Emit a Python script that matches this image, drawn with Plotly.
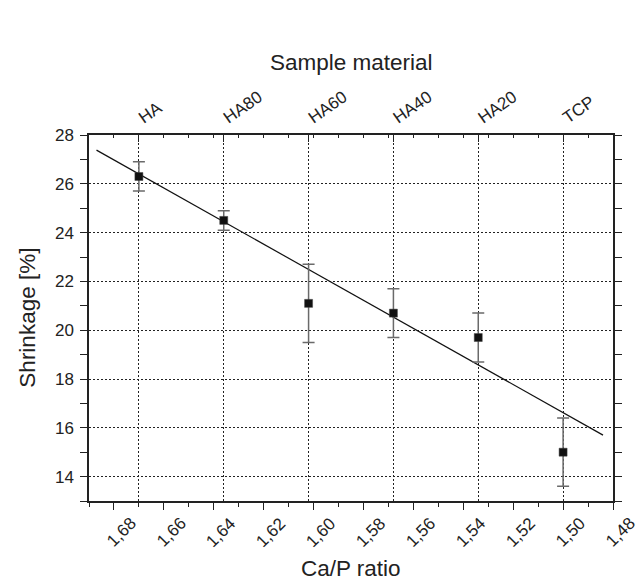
import plotly.graph_objects as go

# ---- data ----
samples = ["HA", "HA80", "HA60", "HA40", "HA20", "TCP"]
ca_p = [1.67, 1.636, 1.602, 1.568, 1.534, 1.50]
shrinkage = [26.3, 24.5, 21.1, 20.7, 19.7, 15.0]
shrinkage_err = [0.6, 0.4, 1.6, 1.0, 1.0, 1.4]

fit_x = [1.687, 1.484]
fit_y = [27.38, 15.70]

bottom_tick_vals = [1.68, 1.66, 1.64, 1.62, 1.60, 1.58, 1.56, 1.54, 1.52, 1.50, 1.48]
bottom_tick_text = ["1,68", "1,66", "1,64", "1,62", "1,60", "1,58", "1,56", "1,54", "1,52", "1,50", "1,48"]
y_tick_vals = [14, 16, 18, 20, 22, 24, 26, 28]

x_range = [1.69, 1.48]
y_range = [13, 28]

FONT = "Arial, 'Liberation Sans', sans-serif"
TXT = "#222222"

fig = go.Figure()

fig.add_trace(go.Scatter(
    x=fit_x, y=fit_y, mode="lines",
    line=dict(color="#111111", width=1.2),
    xaxis="x", yaxis="y", showlegend=False, hoverinfo="skip"))

fig.add_trace(go.Scatter(
    x=ca_p, y=shrinkage, mode="markers",
    marker=dict(symbol="square", size=8, color="#111111",
                line=dict(color="#444444", width=0.5)),
    error_y=dict(type="data", array=shrinkage_err, visible=True,
                 color="#6a6a6a", thickness=1.5, width=6),
    xaxis="x2", yaxis="y", showlegend=False))

# invisible helper trace for top minor-tick axis
fig.add_trace(go.Scatter(x=[None], y=[None], xaxis="x3", yaxis="y",
                         showlegend=False, hoverinfo="skip"))

annotations = []
for v, t in zip(bottom_tick_vals, bottom_tick_text):
    annotations.append(dict(
        x=v, y=0, xref="x", yref="paper", text=t, showarrow=False,
        textangle=-45, xanchor="left", yanchor="top",
        xshift=-14, yshift=-10,
        font=dict(family=FONT, size=17, color=TXT)))

annotations += [
    dict(x=0.5, y=1.197, xref="paper", yref="paper", text="Sample material",
         showarrow=False, xanchor="center", yanchor="middle",
         font=dict(family=FONT, size=22.5, color=TXT)),
    dict(x=0.5, y=-0.184, xref="paper", yref="paper", text="Ca/P ratio",
         showarrow=False, xanchor="center", yanchor="middle",
         font=dict(family=FONT, size=22.5, color=TXT)),
    dict(x=-0.119, y=0.5, xref="paper", yref="paper", text="Shrinkage [%]",
         showarrow=False, xanchor="center", yanchor="middle", textangle=-90,
         font=dict(family=FONT, size=22.5, color=TXT)),
]

fig.update_layout(
    width=638, height=580,
    margin=dict(l=88.5, r=25.3, t=135, b=79.3, pad=0),
    paper_bgcolor="white", plot_bgcolor="white",
    font=dict(family=FONT, size=17, color=TXT),
    separators=",.",
    xaxis=dict(
        range=x_range, showgrid=False, zeroline=False,
        tickvals=bottom_tick_vals, showticklabels=False,
        ticks="outside", ticklen=7, tickwidth=1.2, tickcolor="#222",
        minor=dict(dtick=0.01, tick0=1.48, ticks="outside", ticklen=4,
                   tickwidth=1.2, tickcolor="#222", showgrid=False),
        showline=True, linecolor="#222", linewidth=1.5, mirror=True,
    ),
    xaxis2=dict(
        range=x_range, overlaying="x", side="top", anchor="y",
        tickvals=ca_p, ticktext=samples, tickangle=-35,
        tickfont=dict(family=FONT, size=17, color=TXT),
        ticks="inside", ticklen=7, tickwidth=1.2, tickcolor="#222",
        showgrid=True, gridcolor="#222", gridwidth=1, griddash="2px,2px",
        zeroline=False, showline=False, ticklabelstandoff=5,
    ),
    xaxis3=dict(
        range=x_range, overlaying="x", side="top", anchor="y",
        dtick=0.01, tick0=1.48, showticklabels=False,
        ticks="inside", ticklen=3, tickwidth=1.2, tickcolor="#222",
        showgrid=False, zeroline=False, showline=False,
    ),
    yaxis=dict(
        range=y_range, tickvals=y_tick_vals,
        ticks="outside", ticklen=7, tickwidth=1.2, tickcolor="#222",
        minor=dict(dtick=1, tick0=13, ticks="outside", ticklen=4,
                   tickwidth=1.2, tickcolor="#222", showgrid=False),
        showgrid=True, gridcolor="#222", gridwidth=1, griddash="2px,2px",
        zeroline=False, showline=True, linecolor="#222", linewidth=1.5,
        mirror="allticks", ticklabelstandoff=3,
        tickfont=dict(family=FONT, size=17, color=TXT),
    ),
    annotations=annotations,
)

fig.write_html("out.html", config={"displayModeBar": False},
               post_script="document.body.style.margin='0';")
